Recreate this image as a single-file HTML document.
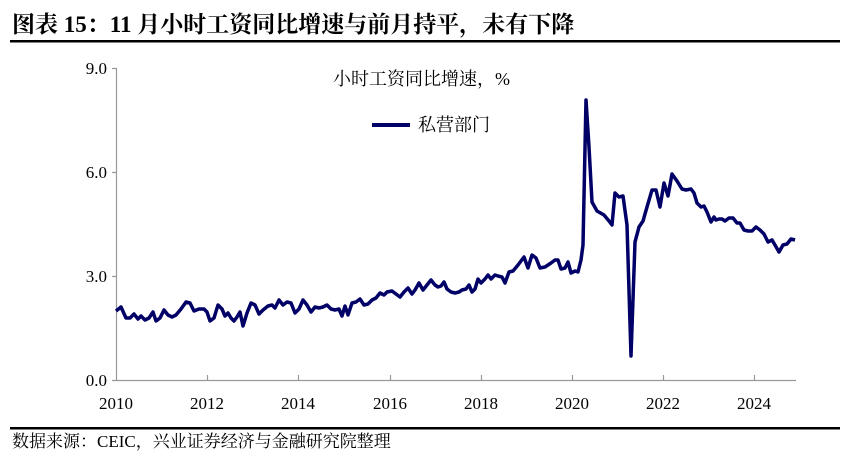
<!DOCTYPE html>
<html><head><meta charset="utf-8"><style>
body{margin:0;width:848px;height:461px;background:#fff;overflow:hidden}
svg{display:block}
</style></head><body>
<svg width="848" height="461" xmlns="http://www.w3.org/2000/svg" font-family="'Liberation Serif','Noto Serif CJK SC',serif">
<text x="12" y="32" font-size="23" font-weight="bold" fill="#000">图表 15：11 月小时工资同比增速与前月持平，未有下降</text>
<rect x="10" y="40" width="830" height="2.5" fill="#000"/>
<rect x="10" y="427" width="830" height="2.5" fill="#000"/>
<text x="12" y="447" font-size="17" fill="#000">数据来源：CEIC，兴业证券经济与金融研究院整理</text>
<g stroke="#999" stroke-width="1.2" fill="none">
<path d="M116.5 68 V380.5 H796"/>
<path d="M112 68.5H116.5 M112 172.5H116.5 M112 276.5H116.5 M112 380.5H116.5"/>
<path d="M207.5 380V375 M298.5 380V375 M390.5 380V375 M481.5 380V375 M572.5 380V375 M663.5 380V375 M754.5 380V375"/>
</g>
<g font-size="17" fill="#000" text-anchor="end">
<text x="107" y="74">9.0</text><text x="107" y="178">6.0</text><text x="107" y="282">3.0</text><text x="107" y="386">0.0</text>
</g>
<g font-size="17" fill="#000" text-anchor="middle">
<text x="116" y="409">2010</text><text x="207" y="409">2012</text><text x="298" y="409">2014</text><text x="390" y="409">2016</text><text x="481" y="409">2018</text><text x="572" y="409">2020</text><text x="663" y="409">2022</text><text x="754" y="409">2024</text>
</g>
<text x="333" y="85" font-size="18" fill="#000">小时工资同比增速，%</text>
<line x1="372" y1="125" x2="410" y2="125" stroke="#000066" stroke-width="4"/>
<text x="418" y="131" font-size="18" fill="#000">私营部门</text>
<polyline fill="none" stroke="#000066" stroke-width="3.5" stroke-linejoin="round" points="116,311 121,307 126,318 130,318 134,314 138,319 141,316 145,320 149,318 153,312 156,321 160,318 164,310 168,315 172,317 176,315 181,309 186,302 190,303 194,311 199,309 204,309 207,312 210,321 214,318 218,305 222,309 225,316 228,313 231,318 234,321 237,317 240,312 243,326 247,313 251,303 255,305 259,314 263,310 268,306 272,305 275,308 279,300 283,305 287,302 291,303 295,313 299,309 303,300 307,305 311,312 315,307 319,308 323,307 327,305 331,309 335,310 339,309 342,316 345,306 348,315 352,303 356,302 360,299 364,305 368,304 372,300 376,298 380,293 384,295 387,292 392,291 396,294 400,297 404,292 408,288 412,294 415,290 419,283 423,290 427,285 431,280 435,285 438,287 441,286 444,282 447,289 451,292 455,293 459,292 462,290 466,289 469,285 472,292 475,289 478,279 481,283 485,279 488,275 491,279 495,275 498,276 502,277 505,283 509,272 513,271 518,265 524,257 528,268 532,255 536,258 540,268 545,267 551,263 555,260 558,260 561,269 565,268 568,262 571,273 575,271 578,272 581,260 583,245 586,100 589,147 592,202 597,211 604,215 609,221 612,225 615,193 619,197 623,196 627,225 631,356 635,242 639,227 643,221 647,207 652,190 656,190 660,207 664,183 668,196 672,174 677,181 682,189 686,190 691,189 694,193 697,203 701,207 704,206 707,212 711,222 714,217 716,220 719,219 722,219 725,221 729,218 733,218 737,223 740,223 744,230 748,231 752,231 756,227 760,230 764,234 768,242 772,240 775,245 779,252 783,245 787,244 791,239 795,240"/>
</svg>
</body></html>
